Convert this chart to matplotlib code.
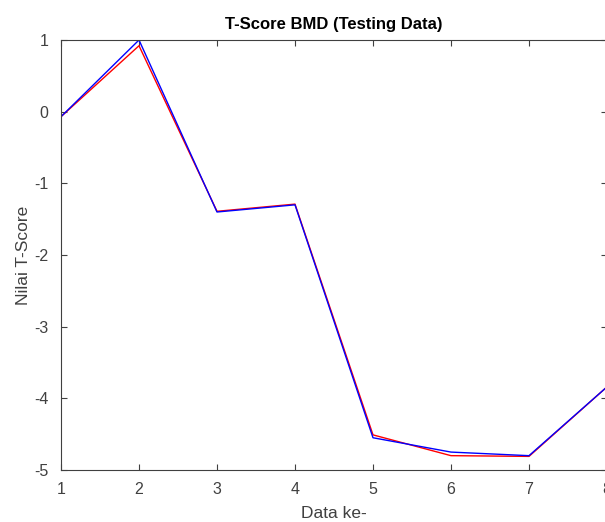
import matplotlib
matplotlib.use("Agg")
import matplotlib.pyplot as plt

data_idx = [1, 2, 3, 4, 5, 6, 7, 8]
tscore_actual = [-0.07, 0.92, -1.39, -1.29, -4.51, -4.80, -4.81, -3.84]
tscore_pred = [-0.07, 1.00, -1.40, -1.30, -4.55, -4.75, -4.80, -3.84]

plt.rcParams['font.family'] = ['Liberation Sans', 'DejaVu Sans']
plt.rcParams['axes.unicode_minus'] = False
fig = plt.figure(figsize=(6.05, 5.22), dpi=100)
ax = fig.add_axes([61/605, 1-470/522, 546/605, 430/522])

ax.plot(data_idx, tscore_actual, color='red', lw=1.0)
ax.plot(data_idx, tscore_pred, color='blue', lw=1.0)

ax.set_xlim(1, 8)
ax.set_ylim(-5, 1)
ax.set_xticks(range(1, 9))
ax.set_yticks(range(-5, 2))
gray = '#404040'
for s in ax.spines.values():
    s.set_color(gray)
    s.set_linewidth(0.8)
ax.tick_params(direction='in', top=True, right=True, length=4, width=0.8,
               color=gray, labelcolor=gray, labelsize=11.5)
ax.tick_params(axis='y', pad=9)
ax.tick_params(axis='x', pad=9)
ax.set_title('T-Score BMD (Testing Data)', fontsize=12, fontweight='bold', color='black', pad=8)
ax.set_xlabel('Data ke-', fontsize=12.5, color=gray, labelpad=6)
ax.set_ylabel('Nilai T-Score', fontsize=12.5, color=gray, labelpad=2)

fig.savefig('out.png', dpi=100)
